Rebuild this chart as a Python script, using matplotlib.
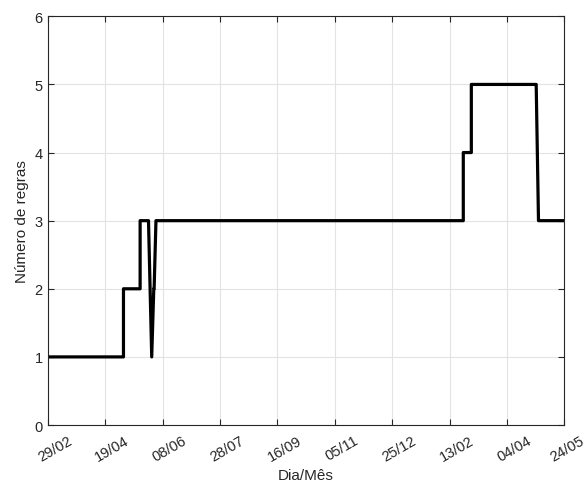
import numpy as np
from matplotlib import pyplot as plt
from matplotlib.transforms import ScaledTranslation

# dias desde 29/02 e numero de regras
dias = [0, 66, 66, 80.5, 80.5, 87.8, 90.6, 92.4, 92.7, 94.3, 362, 362, 369, 369, 425.5, 427.5, 450]
regras = [1, 1, 2, 2, 3, 3, 1, 2, 2, 3, 3, 4, 4, 5, 5, 3, 3]
tick_dias = [0, 50, 100, 150, 200, 250, 300, 350, 400, 450]
tick_rotulos = ['29/02', '19/04', '08/06', '28/07', '16/09', '05/11', '25/12', '13/02', '04/04', '24/05']

plt.rcParams['font.family'] = ['Liberation Sans', 'DejaVu Sans']
cinza = '#262626'

fig = plt.figure(figsize=(5.86, 4.85), dpi=100)
ax = fig.add_axes([0.0814, 0.1216, 0.8816, 0.8427])
ax.plot(dias, regras, color='k', linewidth=2.3)

ax.set_xlim(0, 450)
ax.set_ylim(0, 6)
ax.set_xticks(tick_dias)
ax.set_xticklabels([])
# rotulos inclinados, um pouco deslocados para a direita (estilo matlab)
for i, (d, r) in enumerate(zip(tick_dias, tick_rotulos)):
    dx = 7 if i < len(tick_dias) - 1 else 2.5  # o ultimo nao pode sair da figura
    desloc = ScaledTranslation(dx / 100, -8 / 100, fig.dpi_scale_trans)
    ax.text(d, 0, r, transform=ax.get_xaxis_transform() + desloc, rotation=30,
            ha='center', va='top', fontsize=10.5, color=cinza, clip_on=False)
ax.set_yticks(range(7))
ax.grid(True, color='#e3e3e3', linewidth=0.8)
ax.set_axisbelow(True)
ax.tick_params(direction='in', top=True, right=True, colors=cinza, labelsize=10.5, length=4)
for s in ax.spines.values():
    s.set_color(cinza)
    s.set_linewidth(0.8)
ax.text(0.5, 0, 'Dia/Mês', transform=ax.transAxes + ScaledTranslation(0, -43 / 100, fig.dpi_scale_trans),
        ha='center', va='top', fontsize=11, color=cinza)
ax.set_ylabel('Número de regras', fontsize=11, color=cinza)

fig.savefig('out.png', dpi=100)
